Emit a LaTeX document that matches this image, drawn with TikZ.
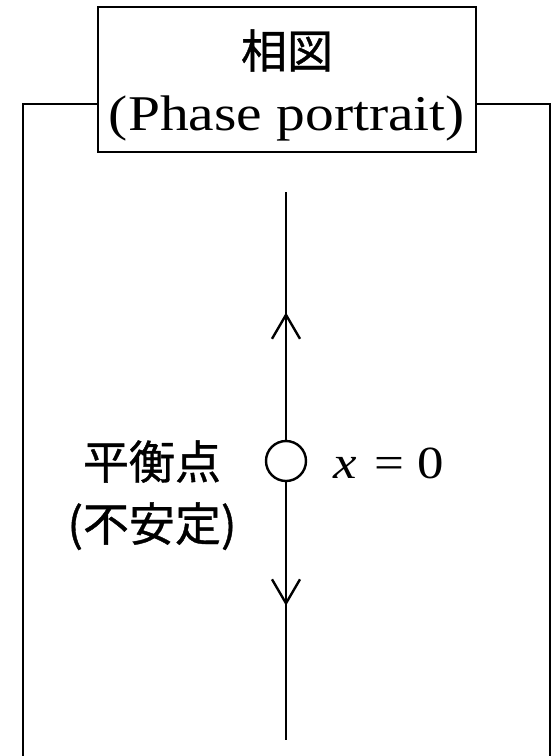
\RequirePackage{fix-cm}
\documentclass[tikz,border=0pt]{standalone}
\usepackage{fontspec}
\newfontfamily\cjk[FakeBold=0.8]{Noto Sans CJK JP}
\newfontfamily\ser[FakeStretch=1.15]{Liberation Serif}
\usetikzlibrary{arrows.meta,decorations.markings}
\begin{document}
\begin{tikzpicture}[x=1pt,y=-1pt,line width=2.4pt,
  frame/.style={line width=2.4pt},
  titlebox/.style={draw,line width=2.4pt,minimum width=378pt,minimum height=145pt,inner sep=0pt,fill=white},
  eqpt/.style={circle,draw,line width=2.4pt,minimum size=40pt,inner sep=0pt},
  flow/.style={line width=2.4pt},
  barb/.style={postaction={decorate},decoration={markings,mark=at position #1 with {\arrow{Straight Barb[length=24pt,width=28pt]}}}},
  lbl/.style={inner sep=0pt,align=center}
]
\useasboundingbox (0,0) rectangle (554,756);
% title box
\node[titlebox] (title) at (287,79.5) {};
\node[lbl,anchor=base,font=\cjk\fontsize{46}{56}\selectfont] (tj) at (287,68) {相図};
\node[lbl,anchor=base,font=\ser\fontsize{50}{60}\selectfont] (te) at (287,130) {(Phase portrait)};
% frame
\coordinate (fl) at (23,104);
\coordinate (fr) at (550,104);
\coordinate (bl) at (23,760);
\coordinate (br) at (550,760);
\draw[frame] (title.west |- fl) -- (fl) -- (bl);
\draw[frame] (title.east |- fr) -- (fr) -- (br);
% phase line
\node[eqpt] (eq) at (286,461) {};
\coordinate (top) at (286,192);
\coordinate (bot) at (286,740);
\draw[flow,barb=0.514] (eq.north) -- (top);
\draw[flow,barb=0.479] (eq.south) -- (bot);
% labels
\node[lbl,anchor=base,font=\cjk\fontsize{46}{56}\selectfont] (l1) at (152,479) {平衡点};
\node[lbl,anchor=base,font=\cjk\fontsize{46}{56}\selectfont] (l2) at (152,541) {(不安定)};
\node[lbl,anchor=base west,font=\ser\fontsize{46}{56}\selectfont] (xeq) at (332,478) {\textit{x}\hspace{18pt}=\hspace{13pt}0};
\end{tikzpicture}
\end{document}
